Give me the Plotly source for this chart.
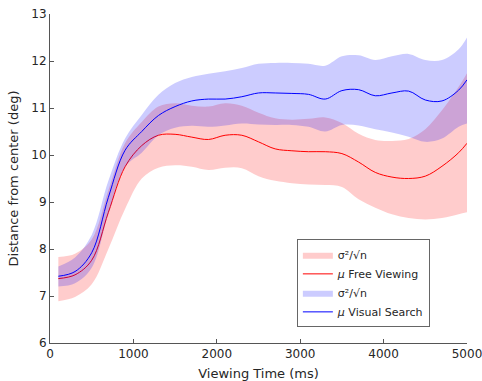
import plotly.graph_objects as go

t = [100, 300, 500, 700, 900, 1100, 1300, 1500, 1700, 1900, 2100, 2300, 2500,
     2700, 2900, 3100, 3300, 3500, 3700, 3900, 4100, 4300, 4500, 4700, 4900, 5000]

red_mean = [7.37, 7.45, 7.76, 8.78, 9.75, 10.2, 10.42, 10.44, 10.38, 10.33, 10.42, 10.42, 10.28,
            10.13, 10.09, 10.07, 10.07, 10.03, 9.85, 9.63, 9.53, 9.5, 9.55, 9.76, 10.05, 10.25]
red_hi = [7.83, 7.9, 8.2, 9.25, 10.25, 10.7, 11.03, 11.1, 11.05, 11.03, 11.1, 11.05, 10.9,
          10.78, 10.75, 10.77, 10.8, 10.68, 10.45, 10.32, 10.3, 10.34, 10.55, 10.95, 11.45, 11.74]
red_lo = [6.89, 6.98, 7.25, 8.0, 8.85, 9.5, 9.73, 9.78, 9.75, 9.68, 9.73, 9.72, 9.55,
          9.45, 9.4, 9.37, 9.36, 9.32, 9.06, 8.88, 8.74, 8.66, 8.63, 8.66, 8.74, 8.78]

blue_mean = [7.42, 7.52, 7.92, 9.1, 10.1, 10.5, 10.84, 11.03, 11.15, 11.19, 11.19, 11.24, 11.32,
             11.32, 11.31, 11.29, 11.19, 11.37, 11.39, 11.26, 11.32, 11.36, 11.17, 11.15, 11.38, 11.6]
blue_hi = [7.63, 7.82, 8.3, 9.45, 10.35, 10.85, 11.28, 11.53, 11.66, 11.73, 11.78, 11.85, 11.94,
           11.96, 11.96, 11.94, 11.9, 12.1, 12.12, 12.02, 12.1, 12.15, 12.02, 12.02, 12.25, 12.5]
blue_lo = [7.2, 7.27, 7.6, 8.75, 9.75, 10.05, 10.42, 10.58, 10.62, 10.6, 10.63, 10.67, 10.65,
           10.64, 10.64, 10.6, 10.5, 10.64, 10.63, 10.55, 10.48, 10.39, 10.28, 10.35, 10.6, 10.67]

x_ticks = [0, 1000, 2000, 3000, 4000, 5000]
y_ticks = [6, 7, 8, 9, 10, 11, 12, 13]

band_label = "σ²/√n"

fig = go.Figure()

def add_group(lo, hi, mean, color_fill, color_line):
    fig.add_trace(go.Scatter(x=t, y=lo, mode="lines", line=dict(width=0, shape="spline"),
                             showlegend=False, hoverinfo="skip"))
    fig.add_trace(go.Scatter(x=t, y=hi, mode="lines", line=dict(width=0, shape="spline"),
                             fill="tonexty", fillcolor=color_fill, showlegend=False))
    fig.add_trace(go.Scatter(x=t, y=mean, mode="lines",
                             line=dict(width=1, color=color_line, shape="spline"),
                             showlegend=False))

add_group(red_lo, red_hi, red_mean, "rgba(255,0,0,0.2)", "rgb(255,0,0)")
add_group(blue_lo, blue_hi, blue_mean, "rgba(0,0,255,0.2)", "rgb(0,0,255)")

# legend entries
legend_items = [
    (band_label, "rgba(255,0,0,0.2)", None),
    ("<i>μ</i> Free Viewing", None, "rgb(255,0,0)"),
    (band_label, "rgba(0,0,255,0.2)", None),
    ("<i>μ</i> Visual Search", None, "rgb(0,0,255)"),
]
for label, fc, lc in legend_items:
    if fc:
        fig.add_trace(go.Scatter(x=[None], y=[None], mode="lines", fill="toself",
                                 fillcolor=fc, line=dict(width=0), name=label))
    else:
        fig.add_trace(go.Scatter(x=[None], y=[None], mode="lines",
                                 line=dict(width=1, color=lc), name=label))

axis_common = dict(showline=True, linecolor="#555555", linewidth=1, ticks="inside",
                   ticklen=4, tickcolor="#555555", showgrid=False, zeroline=False,
                   tickfont=dict(size=12, color="#262626"), mirror=False,
                   automargin=False, ticklabeloverflow="allow")

fig.update_layout(
    width=482, height=381,
    margin=dict(l=50, r=15, t=14, b=38),
    paper_bgcolor="white", plot_bgcolor="white",
    font=dict(family="DejaVu Sans", color="#262626"),
    xaxis=dict(range=[0, 5000], tickmode="array", tickvals=x_ticks,
               ticktext=[str(v) for v in x_ticks],
               title=dict(text="Viewing Time (ms)", font=dict(size=13), standoff=10),
               **axis_common),
    yaxis=dict(range=[6, 13], tickmode="array", tickvals=y_ticks,
               ticktext=[str(v) for v in y_ticks],
               title=dict(text="Distance from center (deg)", font=dict(size=13), standoff=9),
               **axis_common),
    legend=dict(x=0.592, y=0.315, xanchor="left", yanchor="top",
                bgcolor="white", bordercolor="#666666", borderwidth=1,
                font=dict(size=11, color="#262626"), itemwidth=30,
                tracegroupgap=0, traceorder="normal"),
    showlegend=True,
)

fig.write_html("out.html")
